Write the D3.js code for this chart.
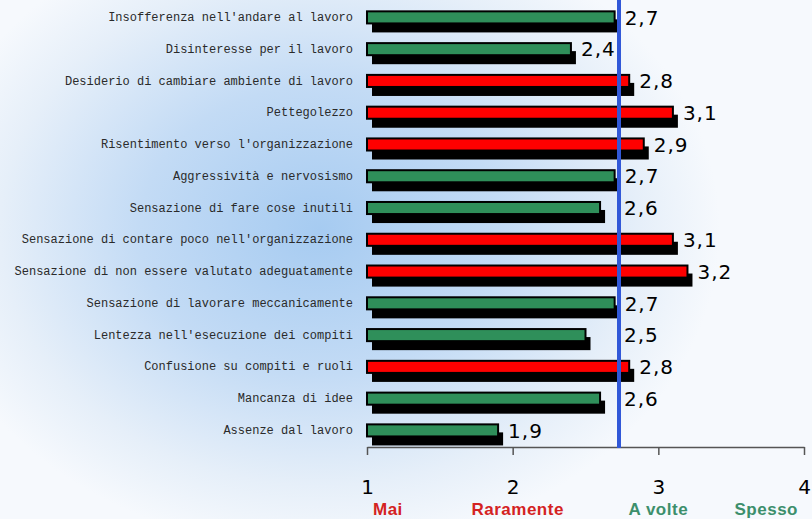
<!DOCTYPE html>
<html>
<head>
<meta charset="utf-8">
<script src="https://cdn.jsdelivr.net/npm/d3@7"></script>
<style>
  html, body { margin: 0; padding: 0; background: #fff; }
  svg { display: block; }
</style>
</head>
<body>
<svg id="chart" width="812" height="519"></svg>
<script>
// data
const voci = [
  "Insofferenza nell'andare al lavoro",
  "Disinteresse per il lavoro",
  "Desiderio di cambiare ambiente di lavoro",
  "Pettegolezzo",
  "Risentimento verso l'organizzazione",
  "Aggressività e nervosismo",
  "Sensazione di fare cose inutili",
  "Sensazione di contare poco nell'organizzazione",
  "Sensazione di non essere valutato adeguatamente",
  "Sensazione di lavorare meccanicamente",
  "Lentezza nell'esecuzione dei compiti",
  "Confusione su compiti e ruoli",
  "Mancanza di idee",
  "Assenze dal lavoro"
];
const punteggi = [2.7, 2.4, 2.8, 3.1, 2.9, 2.7, 2.6, 3.1, 3.2, 2.7, 2.5, 2.8, 2.6, 1.9];
const media = 2.73;
const scalaTick = [1, 2, 3, 4];
const scalaEtichette = ["Mai", "Raramente", "A volte", "Spesso"];

const W = 812, H = 519;
const svg = d3.select('#chart');

const x = d3.scaleLinear()
    .domain([1, 4])
    .range([367, 804]);

const y = d3.scaleBand()
    .domain(voci)
    .range([1.5, 446.3])
    .paddingInner(0.62)
    .paddingOuter(0.31);

const fmt = function(v) { return d3.format('.1f')(v).replace('.', ','); };

// background
const defs = svg.append('defs');
const grad = defs.append('radialGradient')
    .attr('id', 'sfondo')
    .attr('gradientUnits', 'userSpaceOnUse')
    .attr('cx', 0).attr('cy', 0).attr('r', 1)
    .attr('gradientTransform', 'translate(320,230) scale(400,320)');
grad.append('stop').attr('offset', 0).attr('stop-color', '#a6cbf1');
grad.append('stop').attr('offset', 0.45).attr('stop-color', '#c3dbf5');
grad.append('stop').attr('offset', 0.8).attr('stop-color', '#e6eff9');
grad.append('stop').attr('offset', 1).attr('stop-color', '#f6f9fd');

svg.append('rect')
    .attr('width', W)
    .attr('height', H)
    .attr('fill', 'url(#sfondo)');

// category labels
svg.append('g')
    .selectAll('text')
    .data(voci)
    .enter()
    .append('text')
    .attr('x', 353)
    .attr('y', function(d) { return y(d) + y.bandwidth() / 2; })
    .attr('dy', '0.3em')
    .attr('text-anchor', 'end')
    .style('font-family', '"Liberation Mono", monospace')
    .style('font-size', '12px')
    .style('fill', '#2a2a2a')
    .text(function(d) { return d; });

const righe = voci.map(function(v, i) { return { voce: v, val: punteggi[i] }; });

// bar shadows
svg.append('g')
    .selectAll('rect')
    .data(righe)
    .enter()
    .append('rect')
    .attr('x', x(1) + 5)
    .attr('y', function(d) { return y(d.voce) + 8; })
    .attr('width', function(d) { return x(d.val) - x(1); })
    .attr('height', y.bandwidth() + 1)
    .attr('fill', '#000');

// bars
svg.append('g')
    .selectAll('rect')
    .data(righe)
    .enter()
    .append('rect')
    .attr('x', x(1))
    .attr('y', function(d) { return y(d.voce); })
    .attr('width', function(d) { return x(d.val) - x(1); })
    .attr('height', y.bandwidth())
    .attr('fill', function(d) { return d.val > media ? '#ff0000' : '#2f8f5a'; })
    .attr('stroke', '#000')
    .attr('stroke-width', 2);

// axis
const asse = d3.axisBottom(x)
    .tickValues(scalaTick)
    .tickSize(8)
    .tickSizeOuter(0)
    .tickPadding(25)
    .tickFormat(d3.format('d'));

const gAsse = svg.append('g')
    .attr('transform', 'translate(0,447)')
    .call(asse);
gAsse.select('.domain').attr('stroke', '#555').attr('stroke-width', 1.5);
gAsse.selectAll('.tick line').attr('stroke', '#555').attr('stroke-width', 1.5);
gAsse.selectAll('.tick text')
    .style('font-family', '"DejaVu Sans", Verdana, sans-serif')
    .style('font-size', '20px')
    .attr('fill', '#000');

// scale words under the ticks
svg.append('g')
    .selectAll('text')
    .data(scalaEtichette)
    .enter()
    .append('text')
    .attr('x', function(d, i) {
      if (i === 0) return x(scalaTick[i]) + 6;
      if (i === scalaEtichette.length - 1) return x(scalaTick[i]) - 6;
      return x(scalaTick[i]) + (i === 1 ? 5 : 0);
    })
    .attr('y', 515)
    .attr('text-anchor', function(d, i) {
      if (i === 0) return 'start';
      if (i === scalaEtichette.length - 1) return 'end';
      return 'middle';
    })
    .style('font-family', '"Liberation Sans", Arial, sans-serif')
    .style('font-weight', 'bold')
    .style('font-size', '17px')
    .style('letter-spacing', '0.5px')
    .style('fill', function(d, i) { return i < 2 ? '#d42222' : '#3c8f6c'; })
    .text(function(d) { return d; });

// mean line
const xm = x(media);
svg.append('line')
    .attr('x1', xm).attr('x2', xm)
    .attr('y1', 0).attr('y2', 448)
    .attr('stroke', '#3158d8')
    .attr('stroke-width', 4);

// value labels
const etich = svg.append('g')
    .selectAll('text')
    .data(righe)
    .enter()
    .append('text')
    .attr('y', function(d) { return y(d.voce) + y.bandwidth() / 2; })
    .attr('dy', '0.36em')
    .style('font-family', '"DejaVu Sans", Verdana, sans-serif')
    .style('font-size', '20px')
    .style('letter-spacing', '1px')
    .style('fill', '#000')
    .text(function(d) { return fmt(d.val); });

etich.attr('x', function(d) {
  let lx = x(d.val) + 10;
  const w = this.getComputedTextLength();
  if (lx + w > xm - 1 && lx < xm + 4) lx = Math.max(lx, xm + 5);
  return lx;
});
</script>
</body>
</html>
